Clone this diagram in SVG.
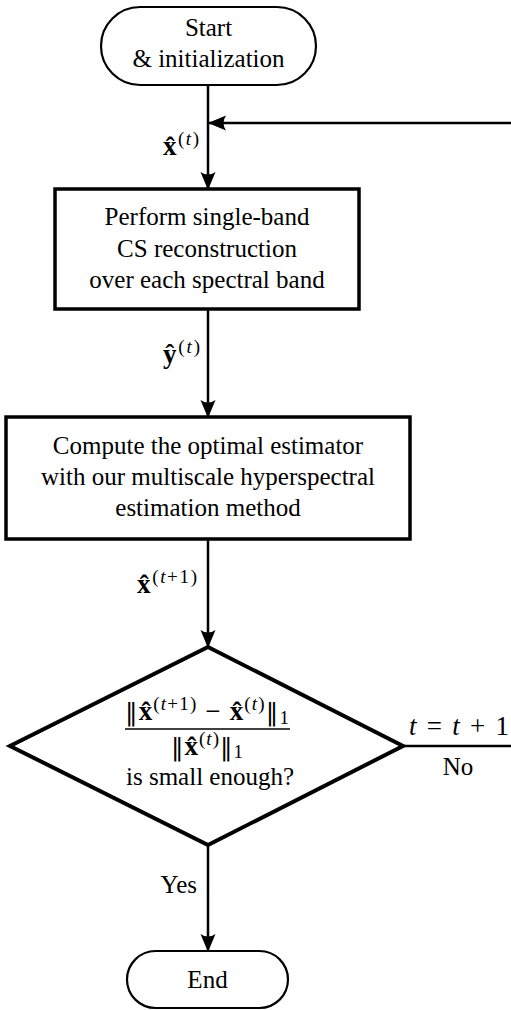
<svg xmlns="http://www.w3.org/2000/svg" width="511" height="1010" viewBox="0 0 511 1010">
<defs>
<style>
.txt{font-family:"Liberation Serif","DejaVu Serif",serif;font-size:25px;fill:#000;}
.math{font-family:"Liberation Serif","DejaVu Serif",serif;font-size:27px;fill:#000;}
.term{fill:#fff;stroke:#000;stroke-width:2.2;}
.box{fill:#fff;stroke:#000;stroke-width:3.5;}
.dec{fill:#fff;stroke:#000;stroke-width:4;stroke-linejoin:miter;}
.conn{fill:none;stroke:#000;stroke-width:2.5;}
.b{font-weight:bold;}
.i{font-style:italic;}
.sup{font-size:19px;}
.nb{font-family:"DejaVu Serif",serif;font-size:25px;}
</style>
<marker id="ah" markerUnits="userSpaceOnUse" viewBox="0 -8 18 16" refX="17" refY="0" markerWidth="18" markerHeight="16" orient="auto">
<path d="M18,0 L0,-7.5 Q5,0 0,7.5 Z" fill="#000"/>
</marker>
</defs>

<g id="connectors">
<path class="conn" d="M208,85 V189" marker-end="url(#ah)"/>
<path class="conn" d="M403,746 H525 V123 H209" marker-end="url(#ah)"/>
<path class="conn" d="M208,309 V417" marker-end="url(#ah)"/>
<path class="conn" d="M208,539 V647" marker-end="url(#ah)"/>
<path class="conn" d="M208,845 V951" marker-end="url(#ah)"/>
<text class="math" x="163" y="155" textLength="36" lengthAdjust="spacing"><tspan class="b">x̂</tspan><tspan class="sup" dy="-10">(<tspan class="i">t</tspan>)</tspan></text>
<text class="math" x="163" y="363" textLength="37" lengthAdjust="spacing"><tspan class="b">ŷ</tspan><tspan class="sup" dy="-10">(<tspan class="i">t</tspan>)</tspan></text>
<text class="math" x="137" y="593" textLength="60" lengthAdjust="spacing"><tspan class="b">x̂</tspan><tspan class="sup" dy="-10">(<tspan class="i">t</tspan>+1)</tspan></text>
<text class="math" x="409" y="735" textLength="100" lengthAdjust="spacing"><tspan class="i">t</tspan> = <tspan class="i">t</tspan> + 1</text>
<text class="txt" x="458" y="775" text-anchor="middle">No</text>
<text class="txt" x="197" y="893" text-anchor="end">Yes</text>
</g>

<g id="start">
<rect class="term" x="101" y="7" width="215" height="78" rx="39" ry="39"/>
<text class="txt" x="208.5" y="36" text-anchor="middle">Start</text>
<text class="txt" x="208.5" y="67" text-anchor="middle">&amp; initialization</text>
</g>

<g id="reconstruct">
<rect class="box" x="55" y="189" width="304" height="120"/>
<text class="txt" x="207" y="225" text-anchor="middle">Perform single-band</text>
<text class="txt" x="207" y="257" text-anchor="middle">CS reconstruction</text>
<text class="txt" x="207" y="288" text-anchor="middle">over each spectral band</text>
</g>

<g id="estimate">
<rect class="box" x="6" y="417" width="404" height="122"/>
<text class="txt" x="208" y="454" text-anchor="middle">Compute the optimal estimator</text>
<text class="txt" x="208" y="485" text-anchor="middle">with our multiscale hyperspectral</text>
<text class="txt" x="208" y="516" text-anchor="middle">estimation method</text>
</g>

<g id="decision">
<polygon class="dec" points="208,647 403,746 208,845 10,746"/>
<text class="math" x="125" y="720" textLength="164" lengthAdjust="spacing"><tspan class="nb">‖</tspan><tspan class="b">x̂</tspan><tspan class="sup" dy="-10">(<tspan class="i">t</tspan>+1)</tspan><tspan dy="10"> − </tspan><tspan class="b">x̂</tspan><tspan class="sup" dy="-10">(<tspan class="i">t</tspan>)</tspan><tspan class="nb" dy="10">‖</tspan><tspan class="sup" dy="4">1</tspan></text>
<line x1="125" y1="729" x2="290" y2="729" stroke="#000" stroke-width="1.5"/>
<text class="math" x="171" y="755" textLength="72" lengthAdjust="spacing"><tspan class="nb">‖</tspan><tspan class="b">x̂</tspan><tspan class="sup" dy="-10">(<tspan class="i">t</tspan>)</tspan><tspan class="nb" dy="10">‖</tspan><tspan class="sup" dy="3">1</tspan></text>
<text class="txt" x="210" y="785" text-anchor="middle">is small enough?</text>
</g>

<g id="end">
<rect class="term" x="127" y="951" width="161" height="57" rx="28.5" ry="28.5"/>
<text class="txt" x="207.5" y="988" text-anchor="middle">End</text>
</g>
</svg>
